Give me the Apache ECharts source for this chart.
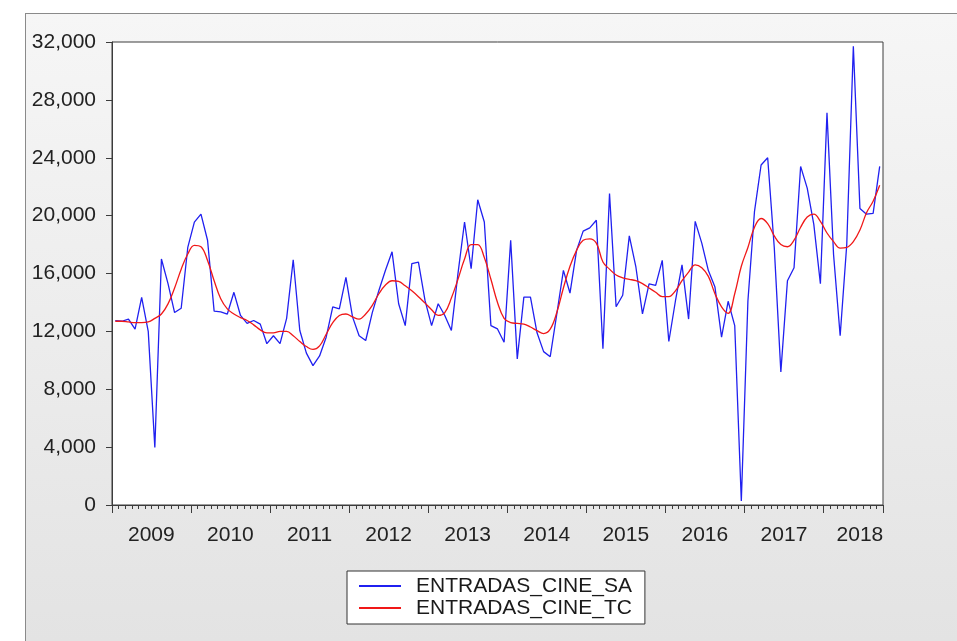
<!DOCTYPE html>
<html>
<head>
<meta charset="utf-8">
<script src="https://cdn.jsdelivr.net/npm/echarts@6/dist/echarts.min.js"></script>
<style>
  html, body { margin: 0; padding: 0; background: #ffffff; }
  #frame { position: absolute; left: 25px; top: 13px; width: 960px; height: 660px;
    border: 1px solid #8a8a8a; background: linear-gradient(#f6f6f6, #e2e2e2); }
  #chart { position: absolute; left: 0; top: 0; width: 957px; height: 641px; }
</style>
</head>
<body>
<div id="frame"></div>
<div id="chart"></div>
<script>
// Monthly observations, Jan 2009 .. Sep 2018
const startYear = 2009;
const years = ['2009','2010','2011','2012','2013','2014','2015','2016','2017','2018'];
const seriesNames = ['ENTRADAS_CINE_SA', 'ENTRADAS_CINE_TC'];

const entradasSA = [
  12750,12700,12850,12150,14350,12000,3970,17000,15300,13300,
  13600,17800,19550,20100,18300,13400,13350,13200,14700,13100,
  12550,12750,12500,11150,11700,11150,12900,16950,12060,10500,
  9630,10300,11600,13700,13560,15730,13000,11700,11370,13300,
  14830,16220,17500,13910,12400,16680,16790,14140,12400,13910,
  13100,12060,15990,19560,16330,21100,19560,12400,12170,11250,
  18300,10100,14370,14370,11900,10600,10250,13200,16220,14650,
  17600,18930,19150,19680,10800,21530,13700,14500,18600,16450,
  13210,15290,15180,16910,11300,14100,16600,12850,19600,18100,
  16200,15060,11600,14080,12400,280,14100,20300,23500,24000,
  17800,9200,15500,16400,23400,21900,19400,15290,27100,17300,
  11700,18000,31700,20500,20100,20150,23400
];
const entradasTC = [
  12700,12700,12650,12600,12600,12650,12900,13200,13900,15000,
  16300,17350,17950,17850,16900,15500,14250,13550,13200,12950,
  12750,12450,12100,11900,11900,12000,12000,11700,11300,10950,
  10750,11000,11800,12600,13100,13200,13000,12850,13200,13800,
  14600,15200,15500,15450,15150,14800,14400,13950,13500,13100,
  13300,14300,15600,17000,18000,18000,17100,15600,14000,12900,
  12600,12550,12500,12300,12050,11850,12150,13300,15000,16500,
  17600,18300,18400,18100,16800,16300,15900,15700,15600,15500,
  15300,15000,14700,14400,14400,14800,15500,16100,16600,16400,
  15800,14600,13700,13250,14600,16500,17800,19200,19800,19450,
  18600,18000,17850,18300,19200,19900,20100,19600,18800,18200,
  17750,17800,18200,19000,20200,21000,22100
];
const yTicks = { min: 0, max: 32000, step: 4000 };

const categories = entradasSA.map((_, i) => {
  const y = startYear + Math.floor(i / 12);
  const m = (i % 12) + 1;
  return y + '-' + (m < 10 ? '0' + m : m);
});
const lastIdx = categories.length - 1;
const lastYearLabelIdx = lastIdx - 3;

const FONT = 'Liberation Sans, Arial, sans-serif';
const chart = echarts.init(document.getElementById('chart'), null, { renderer: 'canvas' });
chart.setOption({
  animation: false,
  backgroundColor: 'transparent',
  textStyle: { fontFamily: FONT },
  grid: {
    left: 112, right: 74, top: 42, bottom: 136,
    show: true, backgroundColor: '#ffffff', borderColor: '#3c3c3c', borderWidth: 1
  },
  legend: {
    orient: 'vertical', left: 347, top: 571,
    padding: [4, 13, 5, 12], itemGap: 0,
    itemWidth: 42, itemHeight: 2, icon: 'rect',
    backgroundColor: '#ffffff', borderColor: '#333333', borderWidth: 1, borderRadius: 0,
    textStyle: { fontSize: 21, color: '#1a1a1a', fontFamily: FONT, padding: [0, 0, 0, 10], lineHeight: 22 },
    data: seriesNames
  },
  xAxis: [
    {
      type: 'category', data: categories, boundaryGap: true,
      axisLine: { show: true, lineStyle: { color: '#3c3c3c', width: 1 } },
      axisTick: { show: true, interval: 0, length: 4, lineStyle: { color: '#3c3c3c' } },
      axisLabel: {
        show: true, margin: 20, fontSize: 21, color: '#222', fontFamily: FONT,
        interval: function (idx) { return (idx % 12 === 6 && idx < 108) || idx === lastYearLabelIdx; },
        formatter: function (val, idx) {
          const y = val.slice(0, 4);
          return idx === lastYearLabelIdx ? '{b|' + y + '}' : '{a|' + y + '}';
        },
        rich: {
          a: { fontSize: 21, color: '#222', fontFamily: FONT, padding: [0, 7, 0, 0] },
          b: { fontSize: 21, color: '#222', fontFamily: FONT }
        }
      },
      splitLine: { show: false }
    },
    {
      type: 'category', data: categories, boundaryGap: true, position: 'bottom',
      axisLine: { show: false },
      axisTick: { show: true, interval: function (idx) { return idx % 12 === 0; }, length: 8,
                  lineStyle: { color: '#3c3c3c' } },
      axisLabel: { show: false },
      splitLine: { show: false }
    }
  ],
  yAxis: {
    type: 'value', min: yTicks.min, max: yTicks.max, interval: yTicks.step,
    axisLine: { show: true, lineStyle: { color: '#3c3c3c' } },
    axisTick: { show: true, length: 6, lineStyle: { color: '#3c3c3c' } },
    axisLabel: {
      margin: 16, fontSize: 21, color: '#222', fontFamily: FONT,
      formatter: function (v) { return v.toLocaleString('en-US'); }
    },
    splitLine: { show: false }
  },
  series: [
    {
      name: seriesNames[0], type: 'line', data: entradasSA, xAxisIndex: 0,
      showSymbol: false, symbol: 'none',
      itemStyle: { color: '#2020f0' },
      lineStyle: { color: '#2020f0', width: 1.3 }
    },
    {
      name: seriesNames[1], type: 'line', data: entradasTC, xAxisIndex: 0,
      showSymbol: false, symbol: 'none', smooth: 0.4,
      itemStyle: { color: '#f01818' },
      lineStyle: { color: '#f01818', width: 1.3 }
    }
  ]
});
</script>
</body>
</html>
